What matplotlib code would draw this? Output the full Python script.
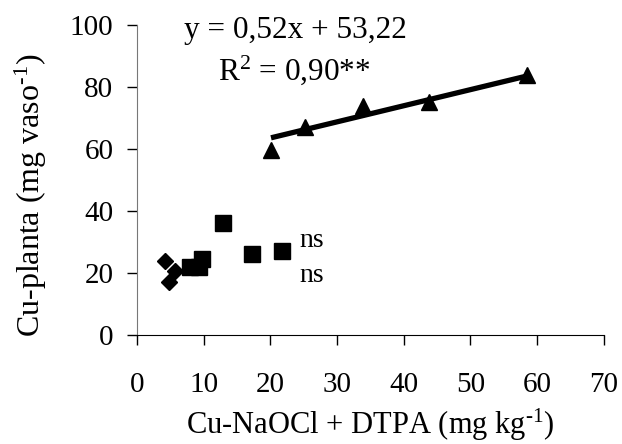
import numpy as np
import matplotlib
matplotlib.use("Agg")
import matplotlib.pyplot as plt

plt.rcParams['font.family'] = ['Liberation Serif', 'DejaVu Serif']
plt.rcParams['mathtext.fontset'] = 'custom'
plt.rcParams['mathtext.rm'] = 'Liberation Serif'
plt.rcParams['mathtext.it'] = 'Liberation Serif:italic'

# data
# ===============================================================================
diamond_x = [4.2, 4.8, 5.7, 9.5]
diamond_y = [24.0, 17.0, 20.7, 22.3]

square_x = [8.0, 9.3, 9.7, 12.85, 17.2, 21.7]
square_y = [22.1, 22.1, 24.5, 36.1, 26.1, 27.2]

triangle_x = [20.1, 25.2, 33.95, 43.85, 58.5]
triangle_y = [59.7, 67.3, 73.9, 75.3, 83.95]

# fitted line for the triangles (as printed on the chart)
slope, intercept = 0.52, 53.22

x_ticks = [0, 10, 20, 30, 40, 50, 60, 70]
y_ticks = [0, 20, 40, 60, 80, 100]

fig = plt.figure(figsize=(6.22, 4.44), dpi=100)
ax = fig.add_axes([137/622, 1 - 335/444, (603.7 - 137)/622, (335 - 25.3)/444])

ax.plot(diamond_x, diamond_y, linestyle='None', marker='D', markersize=8, color='k')
ax.plot(square_x, square_y, linestyle='None', marker='s', markersize=11, color='k')
ax.plot(triangle_x, triangle_y, linestyle='None', marker='^', markersize=11, color='k')

xfit = np.array([min(triangle_x), max(triangle_x)])
ax.plot(xfit, slope*xfit + intercept, color='k', linewidth=3.8, solid_capstyle='butt')

# annotations
ax.text(23.8, 95.8, "y = 0,52x + 53,22", fontsize=22.5, ha='center', va='baseline')
ax.text(23.6, 82.3, "R$^2$ = 0,90**", fontsize=22.5, ha='center', va='baseline')
ax.text(24.3, 28.5, "ns", fontsize=20, ha='left', va='baseline')
ax.text(24.3, 17.2, "ns", fontsize=20, ha='left', va='baseline')

ax.set_xlim(0, 70)
ax.set_ylim(0, 100)
ax.set_xticks(x_ticks)
ax.set_yticks(y_ticks)
ax.tick_params(axis='x', direction='out', length=7, width=1, pad=20, labelsize=21)
ax.tick_params(axis='y', direction='out', length=7, width=1, pad=10, labelsize=21)

ax.spines['top'].set_visible(False)
ax.spines['right'].set_visible(False)
ax.spines['left'].set_color('#777777')
ax.spines['bottom'].set_color('k')

ax.set_xlabel(r"Cu-NaOCl + DTPA (mg kg$^{\text{-1}}$)", fontsize=22, labelpad=6)
ax.set_ylabel(r"Cu-planta (mg vaso$^{\text{-1}}$)", fontsize=23, labelpad=15)
ax.yaxis.label.set_y(0.45)

plt.savefig("out.png", dpi=100)
